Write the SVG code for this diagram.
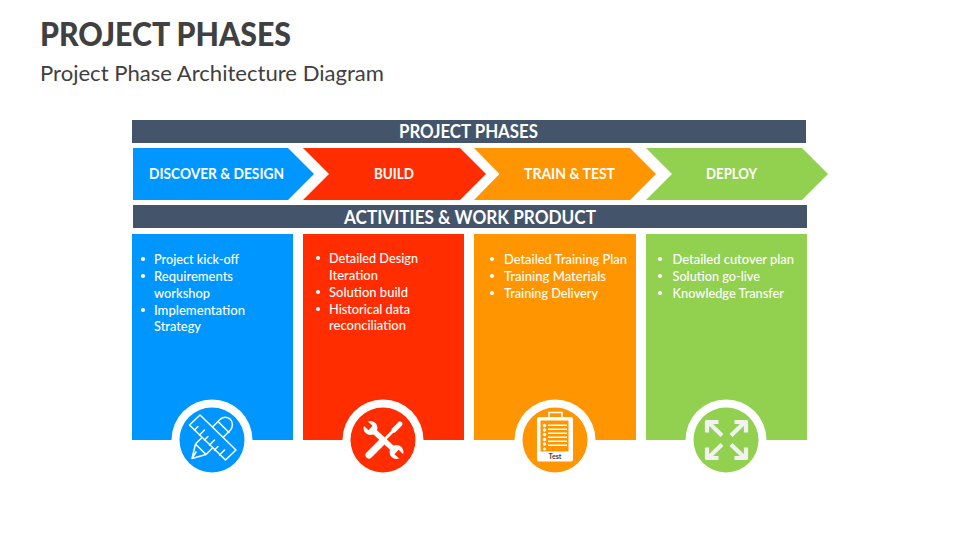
<svg xmlns="http://www.w3.org/2000/svg" width="960" height="540" viewBox="0 0 960 540">
<style>
text{font-family:Lato,"Liberation Sans",sans-serif}
.h{font-weight:700;font-size:18px;fill:#fff}
.c{font-weight:700;font-size:14.5px;fill:#fff}
.b{font-size:13px;font-weight:500;fill:#fff}
.d{fill:#fff}
.blue{fill:#0096ff}.red{fill:#ff2d00}.orange{fill:#ff9500}.green{fill:#92d050}.dark{fill:#44546a}
.ring{fill:#fff}
.ln{fill:none;stroke:#fff;stroke-linecap:round;stroke-linejoin:round}
</style>
<defs>
<g id="arrow"><path d="M-19.500-19V-7.500M-21-18H-8M-18-17.500L-4.500-4.500" fill="none" stroke="#f2f2f2" stroke-width="4.200"/></g>
</defs>
<g id="header">
<text x="40" y="46" textLength="251" lengthAdjust="spacingAndGlyphs" font-size="33" font-weight="900" fill="#404040">PROJECT PHASES</text>
<text x="40" y="80.500" textLength="344" lengthAdjust="spacingAndGlyphs" font-size="21.500" fill="#404040">Project Phase Architecture Diagram</text>
</g>
<g id="bar-phases"><rect class="dark" x="132" y="120" width="674" height="23"/>
<text class="h" x="399" y="137.500" textLength="139" lengthAdjust="spacingAndGlyphs">PROJECT PHASES</text></g>
<g id="phase-discover"><path class="blue" d="M133 148H288L314 174L288 200H133Z"/>
<text class="c" x="149" y="179" textLength="135" lengthAdjust="spacingAndGlyphs">DISCOVER &amp; DESIGN</text></g>
<g id="phase-build"><path class="red" d="M303 148H460L486 174L460 200H303L329 174Z"/>
<text class="c" x="374" y="179" textLength="40" lengthAdjust="spacingAndGlyphs">BUILD</text></g>
<g id="phase-train"><path class="orange" d="M474 148H630L656 174L630 200H474L499.500 174Z"/>
<text class="c" x="524" y="179" textLength="91" lengthAdjust="spacingAndGlyphs">TRAIN &amp; TEST</text></g>
<g id="phase-deploy"><path class="green" d="M646 148H802L828 174L802 200H646L672 174Z"/>
<text class="c" x="706" y="179" textLength="51" lengthAdjust="spacingAndGlyphs">DEPLOY</text></g>
<g id="bar-activities"><rect class="dark" x="133" y="205" width="674" height="23"/>
<text class="h" x="344" y="223.500" textLength="252" lengthAdjust="spacingAndGlyphs">ACTIVITIES &amp; WORK PRODUCT</text></g>

<g id="card-discover"><rect class="blue" x="132" y="234" width="161" height="206"/>
<circle class="d" cx="143" cy="259" r="2.100"/><text class="b" x="154" y="263.500" textLength="85" lengthAdjust="spacingAndGlyphs">Project kick-off</text>
<circle class="d" cx="143" cy="276" r="2.100"/><text class="b" x="154" y="281" textLength="79" lengthAdjust="spacingAndGlyphs">Requirements</text>
<text class="b" x="154" y="298" textLength="56" lengthAdjust="spacingAndGlyphs">workshop</text>
<circle class="d" cx="143" cy="310" r="2.100"/><text class="b" x="154" y="315" textLength="91" lengthAdjust="spacingAndGlyphs">Implementation</text>
<text class="b" x="154" y="331" textLength="47" lengthAdjust="spacingAndGlyphs">Strategy</text>
<circle class="ring" cx="212" cy="440" r="40.500"/><circle class="blue" cx="212" cy="440" r="32.500"/>
<g id="icon-design">
<path class="ln" stroke-width="1.500" d="M192 458.500L195.500 444L220 419.500C223 416.500 228 416.500 230.500 419.500C233 422 233 427 230.500 430L206 454.500ZM195.500 444L206 454.500M218 421.500L229 432.500M192 458.500L196 452"/>
<path class="ln" stroke-width="1.500" style="fill:#0096ff" d="M189.500 425L200 415L236 450L225.500 460Z"/>
<path class="ln" stroke-width="1.500" d="M194.500 430L198 426.500M199.500 435L204.500 430M204.500 440L208 436.500M209.500 445L214.500 440M214.500 450L218 446.500M219.500 455L224.500 450"/>
</g></g>

<g id="card-build"><rect class="red" x="303" y="234" width="161" height="206"/>
<circle class="d" cx="318" cy="258" r="2.100"/><text class="b" x="329" y="263" textLength="89" lengthAdjust="spacingAndGlyphs">Detailed Design</text>
<text class="b" x="329" y="280" textLength="49" lengthAdjust="spacingAndGlyphs">Iteration</text>
<circle class="d" cx="318" cy="292" r="2.100"/><text class="b" x="329" y="297" textLength="79" lengthAdjust="spacingAndGlyphs">Solution build</text>
<circle class="d" cx="318" cy="309" r="2.100"/><text class="b" x="329" y="314" textLength="81" lengthAdjust="spacingAndGlyphs">Historical data</text>
<text class="b" x="329" y="330" textLength="77" lengthAdjust="spacingAndGlyphs">reconciliation</text>
<circle class="ring" cx="383" cy="440" r="40.500"/><circle class="red" cx="383" cy="440" r="32.500"/>
<g id="icon-tools">
<path class="ln" stroke-width="7" d="M369 455L381 443"/>
<path class="ln" stroke-width="2.800" d="M381 443L394 430"/>
<path class="ln" stroke-width="5" d="M394 430L400 424"/>
<path class="ln" stroke-width="5.500" d="M370.500 428L396.500 452"/>
<circle class="d" cx="370.500" cy="428" r="7"/><circle class="d" cx="396.500" cy="452" r="7"/>
<path class="red" d="M372.500 425.800L368.500 430.200L361.900 424.100L365.900 419.700Z"/>
<path class="red" d="M398.500 449.800L394.500 454.200L401.100 460.300L405.100 455.900Z"/>
</g></g>

<g id="card-train"><rect class="orange" x="474" y="234" width="162" height="206"/>
<circle class="d" cx="492" cy="259" r="2.100"/><text class="b" x="504" y="264" textLength="123" lengthAdjust="spacingAndGlyphs">Detailed Training Plan</text>
<circle class="d" cx="492" cy="276" r="2.100"/><text class="b" x="504" y="281" textLength="102" lengthAdjust="spacingAndGlyphs">Training Materials</text>
<circle class="d" cx="492" cy="293" r="2.100"/><text class="b" x="504" y="298" textLength="94" lengthAdjust="spacingAndGlyphs">Training Delivery</text>
<circle class="ring" cx="555" cy="440" r="40.500"/><circle class="orange" cx="555" cy="440" r="32.500"/>
<g id="icon-test">
<rect class="d" x="537" y="417" width="36" height="44.500" rx="2"/>
<rect x="549" y="412.500" width="13" height="6.500" fill="none" stroke="#fff" stroke-width="1.500"/>
<rect class="orange" x="540.500" y="420.500" width="28" height="31"/>
<g class="d"><circle cx="544.500" cy="425.500" r="1.700"/><circle cx="544.500" cy="430" r="1.700"/><circle cx="544.500" cy="434.500" r="1.700"/><circle cx="544.500" cy="439.500" r="1.700"/><circle cx="544.500" cy="444" r="1.700"/><circle cx="544.500" cy="449" r="1.500"/>
<rect x="548" y="424.500" width="19" height="1.500"/><rect x="548" y="428.500" width="19" height="1.500"/><rect x="548" y="432.500" width="19" height="1.500"/><rect x="548" y="436.500" width="19" height="1.500"/><rect x="548" y="440.500" width="19" height="1.500"/><rect x="548" y="444.500" width="19" height="1.500"/></g>
<text x="548.500" y="458.500" font-size="6.500" font-weight="700" fill="#404040" textLength="13" lengthAdjust="spacingAndGlyphs">Test</text>
</g></g>

<g id="card-deploy"><rect class="green" x="646" y="234" width="161" height="206"/>
<circle class="d" cx="660" cy="259" r="2.100"/><text class="b" x="672.500" y="264" textLength="121.500" lengthAdjust="spacingAndGlyphs">Detailed cutover plan</text>
<circle class="d" cx="660" cy="276" r="2.100"/><text class="b" x="672.500" y="281" textLength="87.500" lengthAdjust="spacingAndGlyphs">Solution go-live</text>
<circle class="d" cx="660" cy="293" r="2.100"/><text class="b" x="672.500" y="298" textLength="111.500" lengthAdjust="spacingAndGlyphs">Knowledge Transfer</text>
<circle class="ring" cx="726" cy="440" r="40.500"/><circle class="green" cx="726" cy="440" r="32.500"/>
<g id="icon-expand">
<use href="#arrow" transform="translate(726.500 440)"/>
<use href="#arrow" transform="translate(726.500 440) scale(-1 1)"/>
<use href="#arrow" transform="translate(726.500 440) scale(1 -1)"/>
<use href="#arrow" transform="translate(726.500 440) scale(-1 -1)"/>
</g></g>
<g id="connectors"/>
</svg>
